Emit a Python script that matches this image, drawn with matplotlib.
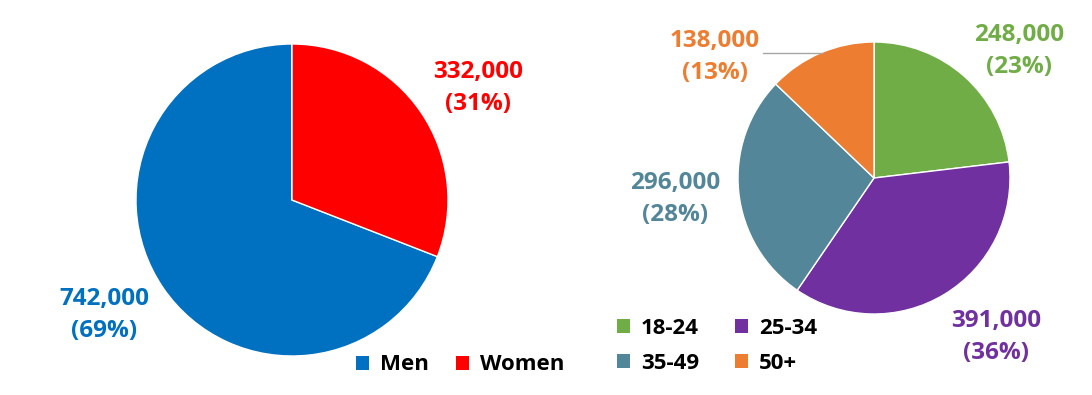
import matplotlib
matplotlib.use("Agg")
import matplotlib.pyplot as plt
from matplotlib.patches import Patch

plt.rcParams['font.family'] = ['Open Sans', 'DejaVu Sans']
plt.rcParams['font.weight'] = 'bold'

# gender split
gender = ["Men", "Women"]
gender_vals = [742000, 332000]
gender_pct = [69, 31]
gender_cols = ["#0070C0", "#FF0000"]

# age split
ages = ["18-24", "25-34", "35-49", "50+"]
age_vals = [248000, 391000, 296000, 138000]
age_pct = [23, 36, 28, 13]
age_cols = ["#70AD47", "#7030A0", "#548699", "#ED7D31"]

W, H = 1092, 395
fig = plt.figure(figsize=(W / 100, H / 100), dpi=100)


def pix_axes(cx, cy, r):
    return fig.add_axes([(cx - r) / W, (H - cy - r) / H, 2 * r / W, 2 * r / H])


ax1 = pix_axes(292, 200, 156)
ax1.pie(gender_vals, colors=gender_cols, startangle=90, counterclock=True,
        radius=1, wedgeprops=dict(edgecolor="white", linewidth=1))
ax1.set_xlim(-1, 1)
ax1.set_ylim(-1, 1)
ax1.set_aspect("auto")
ax1.axis("off")

ax2 = pix_axes(874, 178, 136)
ax2.pie(age_vals, colors=age_cols, startangle=90, counterclock=False,
        radius=1, wedgeprops=dict(edgecolor="white", linewidth=1))
ax2.set_xlim(-1, 1)
ax2.set_ylim(-1, 1)
ax2.set_aspect("auto")
ax2.axis("off")


def lab(x, y, v, p, c):
    fig.text(x / W, 1 - y / H, f"{v:,}\n({p}%)", ha="center", va="center",
             color=c, fontsize=17.5, fontweight="bold", linespacing=1.4)


# label positions (pixels)
lab(478, 88, gender_vals[1], gender_pct[1], gender_cols[1])
lab(104, 315, gender_vals[0], gender_pct[0], gender_cols[0])
lab(1019, 51, age_vals[0], age_pct[0], age_cols[0])
lab(996, 337, age_vals[1], age_pct[1], age_cols[1])
lab(675, 199, age_vals[2], age_pct[2], age_cols[2])
lab(715, 57, age_vals[3], age_pct[3], age_cols[3])

# leader line for the 50+ label
fig.add_artist(plt.Line2D([763 / W, 822 / W], [1 - 53 / H, 1 - 53 / H],
                          color="#A6A6A6", linewidth=1))

h1 = [Patch(facecolor=c) for c in gender_cols]
fig.legend(h1, gender, loc="center", bbox_to_anchor=(460 / W, 1 - 365 / H),
           ncol=2, frameon=False, handlelength=0.6, handleheight=0.6,
           handletextpad=0.5, columnspacing=1.2, prop=dict(weight="bold", size=16))

# legend fills column-wise, so reorder to get rows 18-24/25-34 and 35-49/50+
order = [0, 2, 1, 3]
h2 = [Patch(facecolor=age_cols[i]) for i in order]
fig.legend(h2, [ages[i] for i in order], loc="center",
           bbox_to_anchor=(717 / W, 1 - 346 / H),
           ncol=2, frameon=False, handlelength=0.6, handleheight=0.6,
           handletextpad=0.5, columnspacing=1.6, labelspacing=0.65,
           prop=dict(weight="bold", size=16))

fig.savefig("out.png", dpi=100)
